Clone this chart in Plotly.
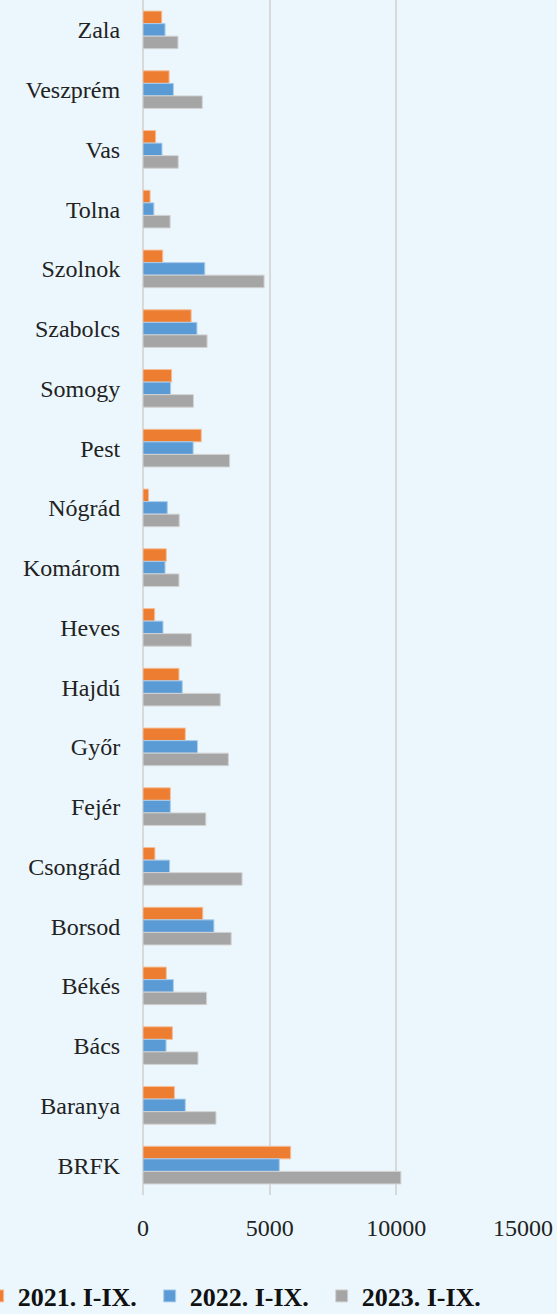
import plotly.graph_objects as go

categories = ["Zala", "Veszprém", "Vas", "Tolna", "Szolnok", "Szabolcs", "Somogy", "Pest",
              "Nógrád", "Komárom", "Heves", "Hajdú", "Győr", "Fejér", "Csongrád", "Borsod",
              "Békés", "Bács", "Baranya", "BRFK"]

series_names = ["2021. I-IX.", "2022. I-IX.", "2023. I-IX."]

values_2021 = [740, 1030, 500, 280, 780, 1900, 1130, 2300, 220, 920, 460, 1420, 1670, 1080, 470,
               2360, 920, 1160, 1240, 5830]
values_2022 = [870, 1200, 750, 430, 2440, 2130, 1090, 1980, 960, 870, 790, 1550, 2150, 1080, 1050,
               2800, 1200, 910, 1670, 5380]
values_2023 = [1380, 2340, 1390, 1070, 4780, 2530, 1990, 3420, 1430, 1420, 1910, 3050, 3370, 2480, 3910,
               3480, 2510, 2170, 2880, 10180]

x_ticks = [0, 5000, 10000, 15000]

colors = ["#ED7D31", "#5B9BD5", "#A5A5A5"]
edge_colors = ["#F6BE98", "#ADCDEA", "#D2D2D2"]

fig = go.Figure()
for name, vals, c, ec in zip(series_names, [values_2021, values_2022, values_2023], colors, edge_colors):
    fig.add_trace(go.Bar(
        y=categories, x=vals, name=name, orientation="h",
        marker=dict(color=c, line=dict(color=ec, width=1)),
    ))

bg = "#EBF7FD"
fig.update_layout(
    width=557, height=1314,
    paper_bgcolor=bg, plot_bgcolor=bg,
    barmode="group", bargap=0.37, bargroupgap=0,
    margin=dict(l=143, r=34, t=0, b=119, autoexpand=False),
    font=dict(family="'Liberation Serif', 'Times New Roman', serif", size=24, color="#222222"),
    xaxis=dict(
        range=[0, 15000], tickvals=x_ticks, ticktext=[str(v) for v in x_ticks],
        showgrid=True, gridcolor="#D9D9D9", gridwidth=1.5,
        zeroline=True, zerolinecolor="#D9D9D9", zerolinewidth=1.5,
        ticks="outside", ticklen=11, tickcolor="rgba(0,0,0,0)",
        tickfont=dict(size=24), fixedrange=True,
    ),
    yaxis=dict(
        categoryorder="array", categoryarray=categories, autorange="reversed",
        showgrid=False, zeroline=False, showline=False,
        ticks="outside", ticklen=17, tickcolor="rgba(0,0,0,0)",
        tickfont=dict(size=24), fixedrange=True,
    ),
    legend=dict(
        orientation="h", x=-0.435, xanchor="left", y=-0.0845, yanchor="middle",
        font=dict(size=26, weight="bold", color="#111111"),
        bgcolor="rgba(0,0,0,0)", traceorder="normal",
        entrywidth=127,
    ),
    showlegend=True,
)

fig.write_html("out.html", config={"displayModeBar": False},
               post_script="document.body.style.margin='0';document.body.style.overflow='hidden';")
